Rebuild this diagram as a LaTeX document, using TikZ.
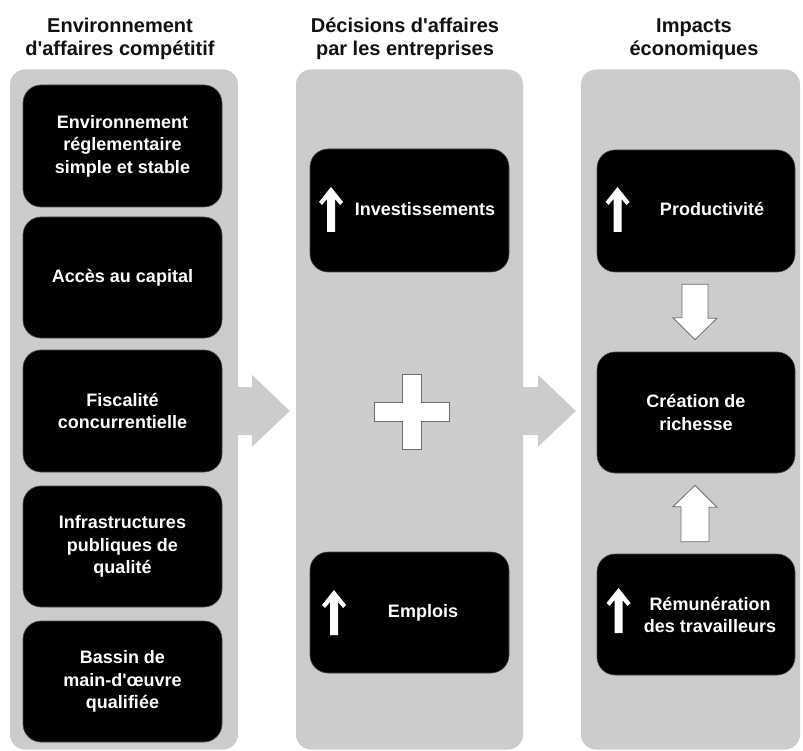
\documentclass[tikz,border=0pt]{standalone}
\usepackage{fontspec}
\setmainfont{Liberation Sans}
\usetikzlibrary{calc}
\definecolor{panelgray}{HTML}{CCCCCC}
\definecolor{edgegray}{HTML}{6E6E6E}
\definecolor{titleblack}{HTML}{111111}
\newcommand{\apos}{\XeTeXglyph\XeTeXglyphindex "quotesingle" \relax}
\newcommand{\boxfont}{\fontsize{18}{22.5}\selectfont\bfseries}
\newcommand{\titlefont}{\fontsize{20}{23}\selectfont\bfseries}
\tikzset{
  panel/.style={fill=panelgray, rounded corners=15pt, inner sep=0pt},
  blackbox/.style={fill=black, draw=black!70, line width=0.6pt, rounded corners=18pt,
    text=white, align=center, font=\boxfont, inner sep=0pt,
    minimum width=199pt, minimum height=122pt},
  boxtext/.style={text=white, align=center, font=\boxfont, inner sep=0pt},
  titletext/.style={text=titleblack, align=center, font=\titlefont, inner sep=0pt, anchor=north},
  hollow/.style={fill=white, draw=edgegray, line width=0.8pt, line join=miter},
  grayblock/.style={fill=panelgray},
  uparrowicon/.pic={\fill[white] (0,0) -- (12,15) -- (9,18) -- (4,12) -- (4,45)
      -- (-4,45) -- (-4,12) -- (-9,18) -- (-12,15) -- cycle;}
}
\begin{document}
\begin{tikzpicture}[x=1pt,y=-1pt]
\useasboundingbox (0,0) rectangle (803,751);

% titles
\node[titletext] (t1) at (120,13) {\rule{0pt}{19pt}Environnement\\d\apos affaires compétitif};
\node[titletext] (t2) at (405,13) {\rule{0pt}{19pt}Décisions d\apos affaires\\par les entreprises};
\node[titletext] (t3) at (694,13) {\rule{0pt}{19pt}Impacts\\économiques};

% panels
\node[panel, minimum width=228pt, minimum height=680pt] (pL) at (124,409.5) {};
\node[panel, minimum width=227pt, minimum height=680pt] (pM) at (409.5,409.5) {};
\node[panel, minimum width=219pt, minimum height=680pt] (pR) at (690.5,409.5) {};

% gray block arrows between panels
\fill[grayblock] ($(pL.east)+(-2,-22.5)$) -- ++(16,0) -- ++(0,-12)
  -- ($(pM.west)+(-6,1.5)$) -- ++(-38,36) -- ++(0,-12) -- ++(-16,0) -- cycle;
\fill[grayblock] ($(pM.east)+(-2,-22.5)$) -- ++(17,0) -- ++(0,-12)
  -- ($(pR.west)+(-5,1.5)$) -- ++(-38,36) -- ++(0,-12) -- ++(-17,0) -- cycle;

% left column
\node[blackbox, minimum height=122pt] (l1) at (122.5,146) {Environnement\\réglementaire\\simple et stable};
\node[blackbox, minimum height=121pt] (l2) at (122.5,277.5) {Accès au capital};
\node[blackbox, minimum height=122pt] (l3) at (122.5,411) {Fiscalité\\concurrentielle};
\node[blackbox, minimum height=121pt] (l4) at (122.5,546.5) {Infrastructures\\publiques de\\qualité};
\node[blackbox, minimum height=121pt] (l5) at (122.5,681.5) {Bassin de\\main-d\apos œuvre\\qualifiée};

% middle column
\node[blackbox, minimum height=123pt] (inv) at (409.5,210.5) {};
\node[boxtext] (tinv) at (425,209) {Investissements};
\pic at (331,187) {uparrowicon};
\node[blackbox, minimum height=121pt] (emp) at (409.5,612.5) {};
\node[boxtext] (temp) at (423,613) {Emplois};
\pic at (334,590) {uparrowicon};

% plus sign
\coordinate (pc) at ($(inv.south)!0.5!(emp.north)+(2,0)$);
\draw[hollow] (pc) ++(-9.5,-37.5) -- ++(19,0) -- ++(0,28) -- ++(28,0) -- ++(0,19)
  -- ++(-28,0) -- ++(0,28) -- ++(-19,0) -- ++(0,-28) -- ++(-28,0) -- ++(0,-19)
  -- ++(28,0) -- cycle;

% right column
\node[blackbox, minimum width=198pt, minimum height=122pt] (prod) at (696,211) {};
\node[boxtext] (tprod) at (712,209) {Productivité};
\pic at (617.5,187) {uparrowicon};
\node[blackbox, minimum width=198pt, minimum height=121pt] (crea) at (696,412.5) {Création de\\richesse};
\node[blackbox, minimum width=198pt, minimum height=121pt] (rem) at (696,614.5) {};
\node[boxtext] (trem) at (710,615) {Rémunération\\des travailleurs};
\pic at (618.5,588) {uparrowicon};

% hollow arrows
\draw[hollow] ($(prod.south)+(-14,12)$) -- ++(26,0) -- ++(0,34) -- ++(9,0)
  -- ($(crea.north)+(-1,-12)$) -- ++(-22,-22) -- ++(9,0) -- cycle;
\draw[hollow] ($(crea.south)+(-1,12)$) -- ++(22,22) -- ++(-8,0)
  -- ($(rem.north)+(13,-12)$) -- ++(-28,0) -- ++(0,-35) -- ++(-8,0) -- cycle;
\end{tikzpicture}
\end{document}
